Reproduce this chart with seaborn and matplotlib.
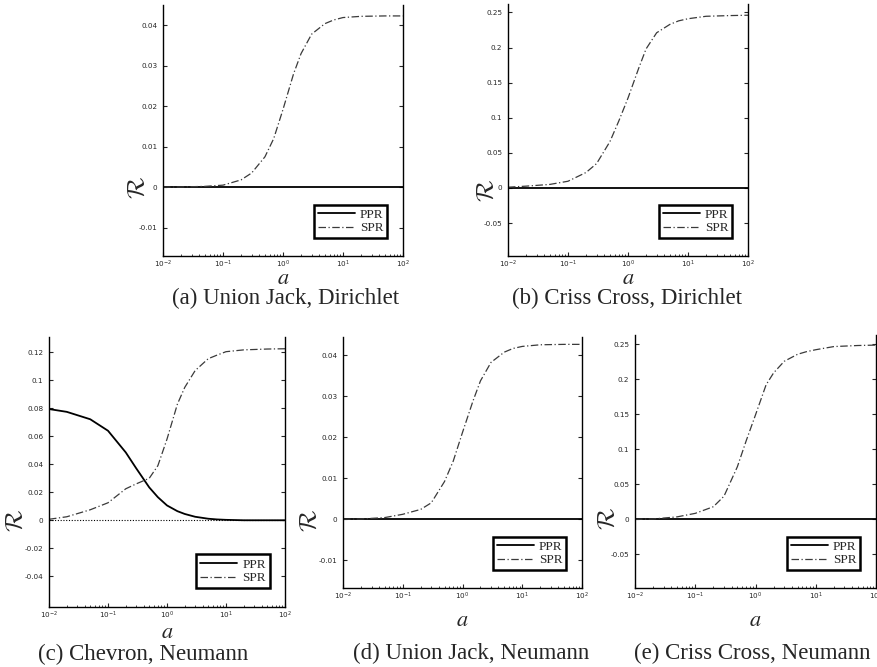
import numpy as np
import pandas as pd
import matplotlib
matplotlib.use("Agg")
import matplotlib.pyplot as plt
import matplotlib.ticker as mticker
import seaborn as sns

sns.set_style("ticks")
plt.rcParams["font.family"] = ["Liberation Serif", "DejaVu Serif"]

# Robin parameter a (log-spaced sample points)
a_vals = [0.01, 0.02, 0.05, 0.1, 0.2, 0.3, 0.5, 0.7, 1.0, 1.5, 2.0, 3.0,
          5.0, 7.0, 10.0, 20.0, 50.0, 100.0]

# (a) Union Jack, Dirichlet
uj_dir_ppr = [0.0] * 18
uj_dir_spr = [0.0, 0.00005, 0.0002, 0.0005, 0.0018, 0.0035, 0.0075, 0.012,
              0.0192, 0.028, 0.0330, 0.0378, 0.0404, 0.0413, 0.0419, 0.0422,
              0.0423, 0.0423]

# (b) Criss Cross, Dirichlet
cc_dir_ppr = [0.0] * 18
cc_dir_spr = [0.001, 0.0025, 0.005, 0.0095, 0.022, 0.0347, 0.066, 0.095,
              0.128, 0.170, 0.198, 0.221, 0.233, 0.238, 0.241, 0.2445,
              0.2455, 0.246]

# (c) Chevron, Neumann
ch_neu_ppr = [0.0795, 0.0775, 0.0722, 0.064, 0.0485, 0.0372, 0.0235, 0.0165,
              0.0106, 0.0065, 0.0045, 0.0025, 0.0011, 0.0006, 0.0003, 0.0,
              0.0, 0.0]
ch_neu_spr = [0.0007, 0.0025, 0.0075, 0.0125, 0.0225, 0.026, 0.0300, 0.039,
              0.058, 0.083, 0.095, 0.107, 0.1155, 0.118, 0.1205, 0.1218,
              0.1224, 0.1226]

# (d) Union Jack, Neumann
uj_neu_ppr = [0.0] * 18
uj_neu_spr = [0.0, 0.00005, 0.0004, 0.0012, 0.0024, 0.0040, 0.0092, 0.0142,
              0.0212, 0.0289, 0.0338, 0.0383, 0.0408, 0.0417, 0.0422, 0.0426,
              0.0427, 0.0427]

# (e) Criss Cross, Neumann
cc_neu_ppr = [0.0] * 18
cc_neu_spr = [0.0, 0.0005, 0.0035, 0.0085, 0.018, 0.033, 0.075, 0.112,
              0.149, 0.192, 0.209, 0.2255, 0.2355, 0.2392, 0.242, 0.2465,
              0.248, 0.2486]

captions = ["(a) Union Jack, Dirichlet", "(b) Criss Cross, Dirichlet",
            "(c) Chevron, Neumann", "(d) Union Jack, Neumann",
            "(e) Criss Cross, Neumann"]

yticks = [
    [-0.01, 0, 0.01, 0.02, 0.03, 0.04],
    [-0.05, 0, 0.05, 0.1, 0.15, 0.2, 0.25],
    [-0.04, -0.02, 0, 0.02, 0.04, 0.06, 0.08, 0.1, 0.12],
    [-0.01, 0, 0.01, 0.02, 0.03, 0.04],
    [-0.05, 0, 0.05, 0.1, 0.15, 0.2, 0.25],
]
ylims = [(-0.017, 0.045), (-0.097, 0.262), (-0.062, 0.131),
         (-0.0168, 0.0445), (-0.098, 0.263)]

series = [(uj_dir_ppr, uj_dir_spr), (cc_dir_ppr, cc_dir_spr),
          (ch_neu_ppr, ch_neu_spr), (uj_neu_ppr, uj_neu_spr),
          (cc_neu_ppr, cc_neu_spr)]

W, H = 877, 667
# pixel boxes: left, right, top, bottom
boxes = [(163, 403, 5, 256), (508, 748, 4, 256), (49, 285, 337, 607),
         (343, 582, 337, 588), (635, 876, 335, 588)]
# y-label anchor (pixels) for the rotated R
rlabel_px = [(138, 187), (487, 190), (16, 520), (310, 520), (608, 518)]
# vertical centre of the italic a under each panel
alabel_y = [279, 279, 634, 622, 622]
caption_px = [(286, 298), (627, 298), (143, 654), (471, 653), (752, 653)]

fig = plt.figure(figsize=(W / 100, H / 100), dpi=100)

for i, (box, (ppr, spr)) in enumerate(zip(boxes, series)):
    l, r, t, b = box
    ax = fig.add_axes([l / W, 1 - b / H, (r - l) / W, (b - t) / H])
    df = pd.DataFrame({"a": a_vals, "PPR": ppr, "SPR": spr})
    if i == 2:
        ax.axhline(0, color="black", lw=0.8, ls=(0, (1, 1.5)), zorder=1)
    sns.lineplot(data=df, x="a", y="PPR", ax=ax, color="black", lw=1.3,
                 label="PPR")
    sns.lineplot(data=df, x="a", y="SPR", ax=ax, color="#3a3a3a", lw=0.9,
                 ls=(0, (6, 2, 1, 2)), label="SPR")
    ax.set_xscale("log")
    ax.set_xlim(1e-2, 1e2)
    ax.set_ylim(*ylims[i])
    ax.yaxis.set_major_locator(mticker.FixedLocator(yticks[i]))
    ax.yaxis.set_major_formatter(mticker.FuncFormatter(lambda v, p: f"{v:g}"))
    ax.xaxis.set_major_locator(mticker.LogLocator(base=10, numticks=10))
    ax.xaxis.set_minor_locator(mticker.LogLocator(base=10, subs=np.arange(2, 10),
                                                  numticks=20))
    ax.tick_params(axis="both", which="major", direction="in", length=3,
                   width=0.8, labelsize=5.2, right=True, top=False, pad=4)
    ax.tick_params(axis="x", which="major", pad=2)
    ax.tick_params(axis="x", which="minor", direction="in", length=1.8,
                   width=0.6, top=False)
    for lab in ax.get_xticklabels() + ax.get_yticklabels():
        lab.set_fontfamily("DejaVu Sans")
    ax.spines["top"].set_visible(False)
    for s in ("left", "bottom", "right"):
        ax.spines[s].set_linewidth(1.0)
        ax.spines[s].set_color("black")

    ax.set_xlabel(r"$a$", fontsize=16, math_fontfamily="stix")
    ax.xaxis.label.set_va("center")
    ax.xaxis.set_label_coords(0.5, -(alabel_y[i] - b) / (b - t))
    ax.set_ylabel(r"$\mathcal{R}$", fontsize=18, math_fontfamily="cm")
    ax.yaxis.label.set_va("center")
    rx, ry = rlabel_px[i]
    ax.yaxis.set_label_coords((rx - l) / (r - l), (b - ry) / (b - t))

    leg = ax.legend(loc="lower right", bbox_to_anchor=(0.935, 0.07),
                    borderaxespad=0, fancybox=False, frameon=True,
                    handlelength=2.8, handletextpad=0.4, borderpad=0.3,
                    labelspacing=0.1, prop={"family": "Liberation Serif",
                                            "size": 9.5})
    leg.get_frame().set_edgecolor("black")
    leg.get_frame().set_linewidth(1.8)
    leg.get_frame().set_alpha(1)

    cx, cy = caption_px[i]
    fig.text(cx / W, 1 - cy / H, captions[i], ha="center", va="center",
             fontsize=16.5, family="Liberation Serif")

fig.savefig("out.png", dpi=100)
